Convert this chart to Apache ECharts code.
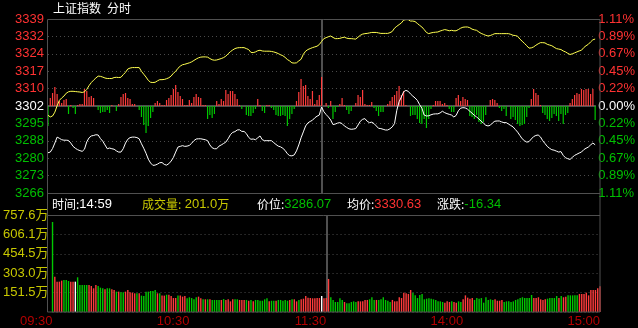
<!DOCTYPE html>
<html><head><meta charset="utf-8">
<script src="https://cdn.jsdelivr.net/npm/echarts@6/dist/echarts.min.js"></script>
<style>html,body{margin:0;padding:0;background:#000;}#c{width:638px;height:328px;}</style>
</head><body><div id="c"></div>
<script>
const preClose = 3302.41;
const pctStep = 0.222;
const priceTickLabels = ['3266','3273','3280','3288','3295','3302','3310','3317','3324','3332','3339'];
const pctTickLabels = ['1.11%','0.89%','0.67%','0.45%','0.22%','0.00%','0.22%','0.45%','0.67%','0.89%','1.11%'];
const volMax = 757.6;
const volTickLabels = ['', '151.5万', '303.0万', '454.5万', '606.1万', '757.6万'];
const timeTickIndex = [0, 60, 120, 180, 240];
const timeTickLabels = ['09:30', '10:30', '11:30', '14:00', '15:00'];
const cursorTime = '14:59';

const price = [
3282.7,3283.0,3284.5,3286.8,3289.3,3288.8,3288.2,3288.0,3288.0,3287.9,
3286.8,3285.4,3284.6,3284.0,3283.6,3283.3,3284.2,3287.3,3289.0,3289.8,
3290.0,3290.3,3290.2,3288.7,3287.6,3286.0,3284.4,3284.7,3284.4,3284.2,
3283.5,3283.0,3283.0,3284.4,3286.8,3288.4,3289.1,3289.3,3289.3,3289.1,
3288.6,3286.5,3284.6,3282.5,3280.0,3278.4,3277.4,3277.5,3277.9,3278.5,
3278.6,3277.8,3277.5,3278.1,3279.2,3280.7,3283.0,3285.1,3285.4,3285.7,
3285.4,3285.5,3285.8,3286.7,3287.8,3288.5,3288.6,3288.6,3288.4,3288.2,
3287.8,3286.0,3284.8,3284.4,3284.4,3285.5,3286.0,3286.6,3287.2,3288.6,
3290.3,3291.3,3291.6,3292.3,3292.4,3291.7,3291.7,3290.8,3289.2,3288.4,
3288.5,3288.2,3289.0,3289.8,3288.2,3287.8,3287.8,3287.8,3287.8,3287.0,
3286.2,3285.5,3285.2,3284.6,3283.7,3282.3,3281.5,3281.4,3281.8,3283.5,
3286.0,3289.0,3291.5,3294.0,3295.3,3295.9,3296.4,3297.4,3298.1,3298.6,
3302.0,3300.0,3298.8,3297.8,3296.5,3294.6,3294.8,3295.2,3295.4,3295.0,
3294.0,3293.4,3292.8,3292.6,3292.7,3292.9,3294.4,3296.0,3296.8,3297.1,
3296.0,3295.4,3295.6,3295.0,3294.0,3293.0,3292.9,3292.6,3292.3,3292.3,
3292.8,3293.6,3295.0,3300.6,3304.2,3306.2,3308.4,3309.0,3308.6,3307.5,
3306.6,3305.8,3304.8,3303.0,3301.5,3298.6,3298.2,3298.3,3298.7,3299.0,
3299.1,3299.1,3299.5,3300.2,3299.6,3299.2,3298.9,3298.6,3297.8,3298.4,
3300.4,3301.5,3301.7,3301.6,3301.1,3300.2,3299.4,3298.5,3297.8,3297.0,
3296.0,3295.2,3294.3,3294.0,3294.3,3295.3,3296.0,3296.1,3296.1,3295.7,
3295.4,3295.4,3294.8,3294.2,3293.6,3292.5,3291.4,3290.0,3288.6,3287.8,
3287.2,3287.4,3288.5,3289.5,3290.0,3290.2,3289.4,3287.8,3286.6,3285.4,
3284.6,3284.0,3283.8,3283.4,3283.0,3283.2,3281.6,3280.6,3280.2,3279.9,
3280.8,3281.6,3282.1,3282.6,3283.0,3284.0,3284.6,3285.1,3286.0,3286.8,
3286.07];

const avgPrice = [
3298.5,3297.8,3298.2,3299.8,3302.5,3304.8,3305.8,3306.6,3307.8,3308.4,
3308.6,3308.6,3308.5,3308.4,3308.3,3308.1,3308.4,3309.4,3311.0,3312.3,
3313.3,3314.2,3315.0,3314.9,3314.6,3314.2,3314.0,3314.0,3314.0,3314.4,
3314.5,3314.4,3314.5,3315.6,3316.6,3318.0,3318.4,3318.6,3318.6,3318.6,
3318.6,3317.0,3315.8,3314.6,3313.2,3312.4,3312.3,3312.4,3313.0,3313.5,
3313.5,3313.6,3313.9,3314.3,3315.0,3316.2,3317.0,3318.3,3319.2,3319.8,
3320.0,3320.3,3320.6,3321.0,3321.6,3322.2,3322.7,3323.0,3323.1,3323.1,
3323.0,3322.4,3321.9,3321.7,3321.8,3322.1,3322.4,3322.8,3323.4,3324.4,
3325.3,3326.0,3326.6,3326.9,3327.0,3327.0,3327.0,3326.6,3326.2,3325.0,
3324.9,3325.2,3325.7,3325.9,3325.6,3325.5,3325.5,3325.5,3325.4,3325.2,
3324.9,3324.5,3324.0,3323.6,3322.9,3322.0,3321.4,3320.6,3320.5,3320.6,
3321.4,3322.1,3324.2,3325.5,3326.2,3326.6,3327.0,3327.3,3327.6,3328.3,
3329.6,3330.8,3331.2,3331.6,3331.9,3331.3,3330.8,3330.8,3330.9,3331.2,
3331.4,3331.0,3330.8,3330.8,3330.7,3330.6,3331.4,3332.2,3332.7,3332.9,
3333.0,3333.2,3333.4,3333.4,3333.4,3333.2,3333.0,3333.0,3333.0,3333.0,
3333.3,3333.8,3335.2,3336.0,3336.7,3337.4,3338.6,3338.8,3338.8,3338.2,
3338.2,3338.0,3337.2,3336.4,3335.7,3334.6,3333.4,3332.9,3333.2,3333.4,
3333.5,3333.6,3334.0,3334.3,3334.6,3334.4,3334.1,3334.3,3334.1,3334.1,
3334.6,3335.2,3335.6,3335.7,3335.7,3335.4,3334.8,3334.5,3334.3,3333.6,
3333.0,3332.6,3332.2,3331.9,3332.1,3332.5,3332.9,3332.9,3332.9,3332.9,
3332.9,3332.9,3332.9,3332.6,3332.2,3332.1,3331.8,3330.6,3329.7,3328.8,
3327.8,3326.8,3326.9,3327.3,3328.0,3328.6,3329.1,3329.1,3329.0,3328.4,
3328.1,3327.8,3327.2,3326.6,3326.4,3326.2,3325.6,3325.2,3324.6,3324.1,
3324.4,3324.8,3325.2,3325.6,3325.9,3327.0,3327.8,3328.4,3329.4,3330.3,
3330.63];

const strength = [
-20,8,13,19,12,5,3,6,7,-8,
1,-2,-8,1,2,2,17,15,9,10,
8,0,-4,-7,-6,-6,-4,-7,1,0,
-5,2,9,12,13,8,7,2,2,0,
-4,-11,-19,-27,-20,-12,-6,3,5,3,
1,1,6,8,11,17,21,14,10,7,
1,1,6,3,9,12,9,8,1,1,
-13,-9,-12,-8,5,2,7,5,16,12,
15,15,12,7,1,-3,0,-9,-10,-10,
-7,-3,7,1,-5,-7,1,1,-2,-4,
-9,-10,-10,-9,-10,-20,-13,-8,-3,5,
14,27,20,21,10,7,15,2,6,11,
29,0,3,-2,5,-13,-6,-1,2,8,
1,-4,-8,-5,0,3,11,9,16,2,
1,1,4,-2,-5,-10,-6,-6,0,2,
5,9,11,15,20,11,15,1,0,-10,
-9,-9,-13,-17,-18,-13,-22,-13,-3,1,
5,5,5,2,3,1,-3,-6,-6,8,
11,5,9,7,6,-10,-11,-13,-9,-16,
-18,-16,-9,0,6,7,6,3,-2,-5,
-3,-10,0,-13,-11,-14,-18,-20,-19,-18,
-11,-2,7,17,13,11,1,-7,-9,-13,
-15,-12,-8,-10,-15,-8,-18,-9,-7,3,
7,11,13,12,17,16,17,17,12,17,
-14];

const volume = [
703,276,237,237,245,250,250,242,237,237,
237,271,211,211,211,211,211,203,185,211,
203,190,185,177,185,185,177,172,159,159,
154,154,159,172,154,151,146,146,146,128,
125,159,159,164,164,172,146,146,128,128,
135,135,125,109,109,128,128,120,125,107,
115,109,99,115,120,107,99,99,99,99,
94,94,94,94,94,101,94,99,83,99,
99,99,94,94,94,94,88,94,83,94,
94,88,88,99,107,83,88,88,88,94,
94,88,94,88,94,99,99,83,94,99,
104,125,112,109,107,107,109,109,125,107,
110,
258,115,94,78,78,107,94,78,68,68,
78,83,78,83,83,83,94,94,99,115,
94,94,94,99,115,94,88,78,94,83,
83,115,109,151,146,141,172,151,130,109,
133,141,99,104,107,104,99,94,83,83,
78,73,83,78,83,78,73,83,78,99,
130,112,104,109,94,109,104,109,73,115,
94,99,94,99,88,88,94,78,83,83,
78,83,94,99,109,115,109,109,109,133,
109,109,115,99,94,99,104,109,109,109,
125,109,125,115,120,130,130,130,130,130,
141,141,141,151,130,172,172,172,185,201.0];

const volDir = [
-1,1,1,1,1,-1,-1,-1,1,1,
0,-1,-1,-1,-1,-1,1,1,1,1,
-1,-1,-1,1,-1,-1,1,1,-1,1,
-1,-1,1,1,1,1,1,-1,1,-1,
-1,-1,-1,-1,-1,-1,1,-1,1,1,
-1,1,1,1,1,-1,1,1,1,-1,
-1,-1,-1,-1,1,1,-1,1,-1,1,
-1,-1,-1,-1,1,-1,1,1,1,1,
-1,-1,1,1,1,-1,1,-1,1,-1,
-1,-1,-1,-1,-1,1,-1,-1,1,-1,
-1,-1,-1,-1,1,-1,1,1,-1,1,
1,1,1,1,1,1,1,1,0,1,
1,
1,-1,-1,-1,-1,-1,-1,1,-1,-1,
-1,-1,-1,1,1,1,1,1,-1,-1,
-1,1,-1,-1,-1,-1,-1,-1,1,1,
1,1,1,1,1,1,1,-1,-1,-1,
-1,-1,-1,-1,-1,-1,-1,-1,-1,-1,
-1,1,1,1,-1,1,1,-1,-1,1,
1,1,1,1,-1,-1,-1,-1,-1,-1,
-1,-1,-1,1,1,1,1,-1,-1,-1,
-1,-1,-1,-1,-1,-1,-1,-1,-1,-1,
1,1,1,1,1,1,-1,-1,-1,-1,
-1,1,-1,1,1,-1,-1,-1,-1,-1,
1,1,1,1,1,1,1,1,1,1];

const RED = '#ff3c3c', GREEN = '#00c800', WHITE = '#ffffff', GREY = '#505050';
const LBL_RED = '#ff3232', LBL_GREEN = '#00c000', YEL = '#c8c800';
const NUM_FONT = '"Liberation Sans", Arial, "Noto Sans CJK SC", sans-serif';
const CJK_FONT = '"Noto Sans CJK SC", "Liberation Sans", sans-serif';

const N = price.length;
const cats = [];
for (let i = 0; i < N; i++) {
  const m = i <= 120 ? 570 + i : 780 + (i - 120);
  cats.push(String(Math.floor(m / 60)).padStart(2, '0') + ':' + String(m % 60).padStart(2, '0'));
}
const toRow = p => (p / preClose - 1) * 100 / pctStep;
const sideColor = v => { const n = Math.round(Number(v)); return n > 0 ? LBL_RED : (n < 0 ? LBL_GREEN : WHITE); };

const last = N - 1;
const lastPrice = price[last], lastAvg = avgPrice[last];
const chg = lastPrice - preClose;

const richStyles = {
  w: { fill: WHITE, font: '12px ' + CJK_FONT },
  wn: { fill: WHITE, font: '13px ' + NUM_FONT },
  y: { fill: YEL, font: '12px ' + CJK_FONT },
  yn: { fill: YEL, font: '13px ' + NUM_FONT },
  g: { fill: LBL_GREEN, font: '13px ' + NUM_FONT },
  r: { fill: LBL_RED, font: '13px ' + NUM_FONT }
};
function infoText(x, text) {
  return { type: 'text', z: 100, silent: true,
    style: { x: x, y: 204, text: text, rich: richStyles, textVerticalAlign: 'middle', verticalAlign: 'middle' } };
}

const chart = echarts.init(document.getElementById('c'));
const splitAt1130 = { show: true, interval: (i) => i === 120, lineStyle: { color: GREY, width: 2 } };
chart.setOption({
  backgroundColor: '#000',
  animation: false,
  grid: [
    { left: 48, right: 38, top: 19, height: 174 },
    { left: 48, right: 38, top: 215, height: 97 }
  ],
  xAxis: [
    { type: 'category', gridIndex: 0, data: cats, boundaryGap: false,
      axisLine: { show: true, onZero: true, onZeroAxisIndex: 0, lineStyle: { color: GREY, width: 2 } },
      axisTick: { show: false }, axisLabel: { show: false }, splitLine: splitAt1130 },
    { type: 'category', gridIndex: 1, data: cats, boundaryGap: false,
      axisLine: { show: false }, axisTick: { show: false },
      axisLabel: { show: true, interval: (i) => timeTickIndex.includes(i),
        formatter: (v, i) => timeTickLabels[timeTickIndex.indexOf(i)] || '',
        align: 'right', color: '#b40000', fontSize: 13, fontFamily: NUM_FONT, margin: 3 },
      splitLine: splitAt1130 }
  ],
  yAxis: [
    { type: 'value', gridIndex: 0, min: -5, max: 5, interval: 1, position: 'left',
      axisLine: { show: false }, axisTick: { show: false },
      axisLabel: { formatter: v => priceTickLabels[Math.round(v) + 5], color: sideColor,
        fontSize: 13, fontFamily: NUM_FONT, margin: 4 },
      splitLine: { show: true, lineStyle: { color: '#4a4a4a', type: [1, 3] } } },
    { type: 'value', gridIndex: 0, min: -5, max: 5, interval: 1, position: 'right',
      axisLine: { show: false }, axisTick: { show: false },
      axisLabel: { formatter: v => pctTickLabels[Math.round(v) + 5], color: sideColor,
        fontSize: 13, fontFamily: NUM_FONT, margin: 3 },
      splitLine: { show: false } },
    { type: 'value', gridIndex: 0, min: -87, max: 87, show: false, splitLine: { show: false } },
    { type: 'value', gridIndex: 1, min: 0, max: volMax, interval: volMax / 5,
      axisLine: { show: false }, axisTick: { show: false },
      axisLabel: { formatter: v => volTickLabels[Math.round(v / (volMax / 5))] || '',
        color: YEL, fontSize: 13, fontFamily: NUM_FONT, margin: 4 },
      splitLine: { show: true, lineStyle: { color: '#4a4a4a', type: [1, 3] } } }
  ],
  series: [
    { type: 'bar', xAxisIndex: 0, yAxisIndex: 2, data: strength, barWidth: 1.2,
      itemStyle: { color: p => p.value >= 0 ? RED : GREEN }, z: 2 },
    { type: 'line', xAxisIndex: 0, yAxisIndex: 0, data: avgPrice.map(toRow), symbol: 'none',
      lineStyle: { color: '#ffff50', width: 1 }, z: 3 },
    { type: 'line', xAxisIndex: 0, yAxisIndex: 0, data: price.map(toRow), symbol: 'none',
      lineStyle: { color: WHITE, width: 1 }, z: 4 },
    { type: 'bar', xAxisIndex: 1, yAxisIndex: 3, data: volume, barWidth: 1.4,
      itemStyle: { color: p => volDir[p.dataIndex] > 0 ? RED : (volDir[p.dataIndex] < 0 ? GREEN : WHITE) } }
  ],
  graphic: [
    { type: 'rect', z: 100, silent: true, shape: { x: 47.5, y: 19.5, width: 552.5, height: 292.5 },
      style: { fill: 'none', stroke: GREY, lineWidth: 1 } },
    { type: 'line', z: 100, silent: true, shape: { x1: 47.5, y1: 193.5, x2: 600, y2: 193.5 }, style: { stroke: GREY, lineWidth: 1 } },
    { type: 'line', z: 100, silent: true, shape: { x1: 47.5, y1: 215.5, x2: 600, y2: 215.5 }, style: { stroke: GREY, lineWidth: 1 } },
    { type: 'text', z: 100, silent: true, style: { x: 53, y: 8, text: '上证指数', fill: WHITE, font: '12px ' + CJK_FONT, textVerticalAlign: 'middle', verticalAlign: 'middle' } },
    { type: 'text', z: 100, silent: true, style: { x: 107, y: 8, text: '分时', fill: WHITE, font: '12px ' + CJK_FONT, textVerticalAlign: 'middle', verticalAlign: 'middle' } },
    infoText(52, '{w|时间:}{wn|' + cursorTime + '}'),
    infoText(142, '{y|成交量:} {yn|' + volume[last].toFixed(1) + '}{y|万}'),
    infoText(257, '{w|价位:}{g|' + lastPrice.toFixed(2) + '}'),
    infoText(347, '{w|均价:}{r|' + lastAvg.toFixed(2) + '}'),
    infoText(437, '{w|涨跌:}{' + (chg < 0 ? 'g' : 'r') + '|' + chg.toFixed(2) + '}')
  ]
});
</script>
</body></html>
